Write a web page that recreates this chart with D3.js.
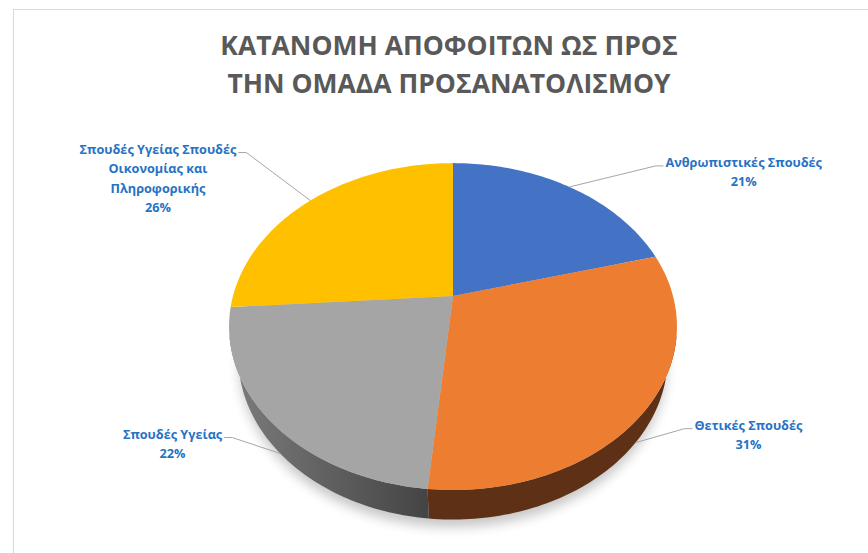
<!DOCTYPE html>
<html>
<head>
<meta charset="utf-8">
<script src="https://cdn.jsdelivr.net/npm/d3@7"></script>
<style>
  html, body { margin: 0; padding: 0; background: #fff; }
  svg { display: block; }
  .title { font-family: "Open Sans", Lato, sans-serif; font-weight: 700; fill: #595959; }
  .label { font-family: "Open Sans", Lato, sans-serif; font-weight: 700; fill: #2672c4; font-size: 12.7px; }
  .leader { fill: none; stroke: #a6a6a6; stroke-width: 1; }
</style>
</head>
<body>
<svg id="chart"></svg>
<script>
// data
var titleLines = ['ΚΑΤΑΝΟΜΗ ΑΠΟΦΟΙΤΩΝ ΩΣ ΠΡΟΣ', 'ΤΗΝ ΟΜΑΔΑ ΠΡΟΣΑΝΑΤΟΛΙΣΜΟΥ'];
var categories = [
    'Ανθρωπιστικές Σπουδές',
    'Θετικές Σπουδές',
    'Σπουδές Υγείας',
    'Σπουδές Υγείας Σπουδές Οικονομίας και Πληροφορικής'
];
var values = [20.8, 30.7, 22.4, 26.1];
var colors = ['#4472c4', '#ed7d31', '#a5a5a5', '#ffc000'];
var sideColors = [['#2b4a80', '#2b4a80'], ['#5e3116', '#5e3116'], ['#7c7c7c', '#444444'], ['#a07800', '#a07800']];

// where the leader line bends, relative to its anchor on the pie rim
var leaderBend = [[86, -21], [49, -14], [-48, -16], [-64, -48]];

var width = 868, height = 553;

var svg = d3.select('#chart')
    .attr('width', width)
    .attr('height', height);

// chart area border (runs off the right/bottom edge like the screenshot)
svg.append('rect')
    .attr('x', 13.5).attr('y', 9.5)
    .attr('width', width).attr('height', height)
    .attr('fill', '#fff')
    .attr('stroke', '#d9d9d9');

svg.selectAll('text.title')
    .data(titleLines)
    .enter().append('text')
    .attr('class', 'title')
    .attr('x', 449)
    .attr('y', function(d, i) { return 55 + i * 38; })
    .attr('text-anchor', 'middle')
    .style('font-size', '26.5px')
    .text(function(d) { return d; });

// 3d projection of the pie
var cx = 453, cy = 296;
var R = 220, h = 48, D = 821;
var phi = 45.8 * Math.PI / 180;

function project(t, Y) {
    var X = R * Math.sin(t), Z = R * Math.cos(t);
    var vy = Y * Math.cos(phi) + Z * Math.sin(phi);
    var vz = Z * Math.cos(phi) - Y * Math.sin(phi);
    var f = D / (D + vz);
    return [cx + X * f, cy - vy * f];
}

function arcPoints(a0, a1, Y) {
    var n = Math.max(2, Math.ceil(Math.abs(a1 - a0) / 0.02));
    return d3.range(n + 1).map(function(i) {
        return project(a0 + (a1 - a0) * i / n, Y);
    });
}

var line = d3.line();

var pie = d3.pie().sort(null).value(function(d) { return d; })
    .startAngle(0).endAngle(2 * Math.PI);
var slices = pie(values);
var total = d3.sum(values);

var defs = svg.append('defs');
defs.append('filter').attr('id', 'shadow')
    .attr('x', '-20%').attr('y', '-20%').attr('width', '140%').attr('height', '140%')
    .append('feGaussianBlur').attr('stdDeviation', 6);

// soft shadow under the pie
svg.append('path')
    .attr('d', line(arcPoints(0, 2 * Math.PI, -h - 6)) + 'Z')
    .attr('transform', 'translate(0,4)')
    .attr('fill', '#000')
    .attr('opacity', 0.22)
    .attr('filter', 'url(#shadow)');

// visible range of the side wall
var sideLimit = Math.acos(-R / (D * Math.cos(phi)));
var sideFrom = sideLimit, sideTo = 2 * Math.PI - sideLimit;

var sideGroup = svg.append('g');
slices.forEach(function(s, i) {
    var a0 = Math.max(s.startAngle, sideFrom - 0.15);
    var a1 = Math.min(s.endAngle, sideTo + 0.15);
    if (a1 <= a0) return;
    var pts = arcPoints(a0, a1, 0).concat(arcPoints(a1, a0, -h));
    var xs = d3.extent(pts, function(p) { return p[0]; });
    var grad = defs.append('linearGradient')
        .attr('id', 'side' + i)
        .attr('gradientUnits', 'userSpaceOnUse')
        .attr('x1', xs[0]).attr('x2', xs[1])
        .attr('y1', 0).attr('y2', 0);
    grad.append('stop').attr('offset', 0).attr('stop-color', sideColors[i][0]);
    grad.append('stop').attr('offset', 1).attr('stop-color', sideColors[i][1]);
    sideGroup.append('path')
        .attr('d', line(pts) + 'Z')
        .attr('fill', 'url(#side' + i + ')');
});

// top faces
svg.append('g').selectAll('path')
    .data(slices)
    .enter().append('path')
    .attr('d', function(d) {
        return line([[cx, cy]].concat(arcPoints(d.startAngle, d.endAngle, 0))) + 'Z';
    })
    .attr('fill', function(d, i) { return colors[i]; });

// data labels
function wrap(text, maxWidth, measure) {
    var words = text.split(' '), lines = [], cur = '';
    words.forEach(function(w) {
        var next = cur ? cur + ' ' + w : w;
        if (cur && measure(next) > maxWidth) { lines.push(cur); cur = w; }
        else cur = next;
    });
    lines.push(cur);
    return lines;
}

var probe = svg.append('text').attr('class', 'label');
function measure(t) { probe.text(t); return probe.node().getComputedTextLength(); }
var wrapWidth = measure(categories[0]) + 8;

var labels = svg.append('g');
slices.forEach(function(s, i) {
    var mid = (s.startAngle + s.endAngle) / 2;
    var front = Math.cos(mid) < 0;
    var anchor = project(mid, front ? -h : 0);
    var bend = [anchor[0] + leaderBend[i][0], anchor[1] + leaderBend[i][1]];
    var right = leaderBend[i][0] > 0;
    var end = [bend[0] + (right ? 8 : -8), bend[1]];

    labels.append('path')
        .attr('class', 'leader')
        .attr('d', line([anchor, bend, end]));

    var pct = d3.format('.0%')(s.value / total);
    var textLines = wrap(categories[i], wrapWidth, measure).concat([pct]);
    var blockW = d3.max(textLines, measure);
    var centerX = right ? end[0] + 2 + blockW / 2 : end[0] - 2 - blockW / 2;

    labels.append('text')
        .attr('class', 'label')
        .attr('text-anchor', 'middle')
        .selectAll('tspan')
        .data(textLines)
        .enter().append('tspan')
        .attr('x', centerX)
        .attr('y', function(d, k) { return end[1] + 1 + k * 19.5; })
        .text(function(d) { return d; });
});
probe.remove();
</script>
</body>
</html>
